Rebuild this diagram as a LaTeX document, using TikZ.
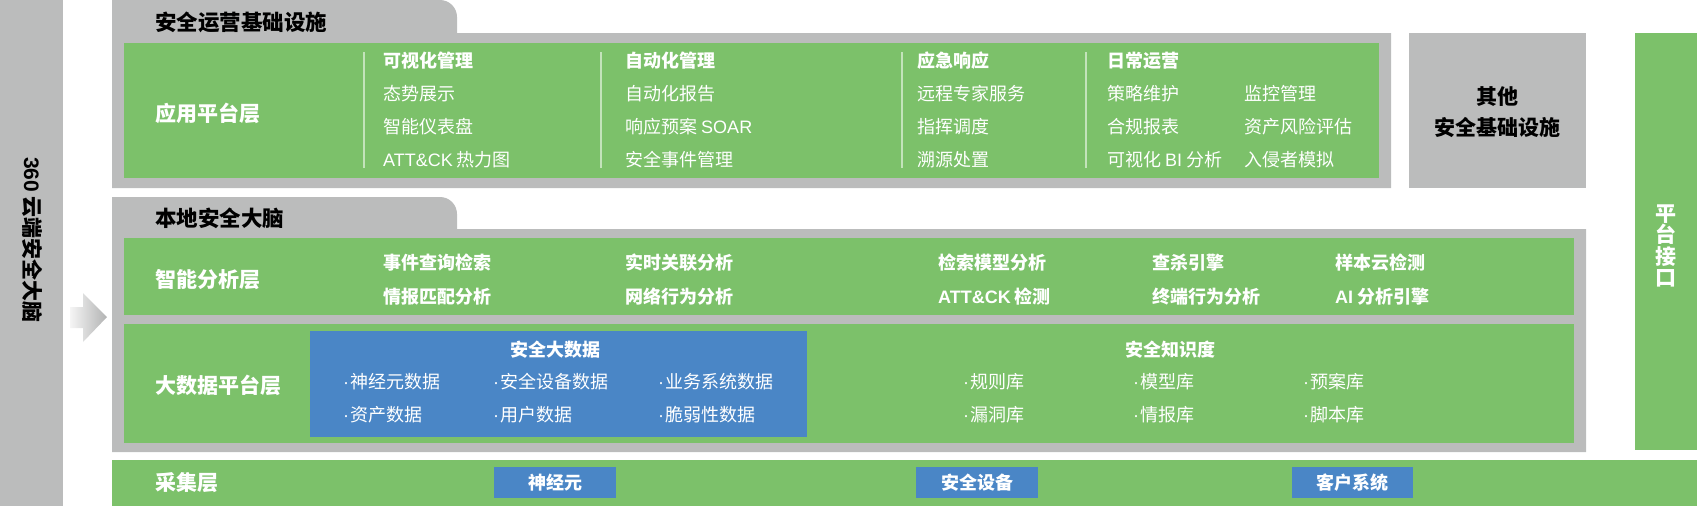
\documentclass[tikz,border=0pt]{standalone}
\usepackage{fontspec}
\setmainfont{Noto Sans CJK SC}
\newfontfamily\latf{Liberation Sans}
\newcommand{\lt}[1]{{\latf #1}}
\newcommand{\dt}{{\latf ·\hspace{1pt}}}
\definecolor{lgreen}{RGB}{124,193,106}
\definecolor{pgray}{RGB}{187,188,188}
\definecolor{dblue}{RGB}{74,134,198}
\tikzset{
  lbl/.style={anchor=west, inner sep=0pt, text=white, font=\bfseries\fontsize{21}{25}\selectfont},
  ttl/.style={anchor=west, inner sep=0pt, text=black, font=\bfseries\fontsize{21.5}{25}\selectfont},
  item/.style={anchor=west, inner sep=0pt, text=white, font=\fontsize{18}{22}\selectfont},
  itemb/.style={item, font=\bfseries\fontsize{18}{22}\selectfont},
  itemc/.style={itemb, anchor=center},
  gbox/.style={fill=lgreen, draw=none, anchor=north west, inner sep=0pt},
  bbox/.style={fill=dblue, draw=none, anchor=north west, inner sep=0pt},
  graybox/.style={fill=pgray, draw=none, anchor=north west, inner sep=0pt},
  sep/.style={draw=white, draw opacity=0.55, line width=1.4pt}
}
\begin{document}
\begin{tikzpicture}[x=1pt,y=-1pt]
\useasboundingbox (0,0) rectangle (1698,506);
% left bar
\node[graybox, minimum width=63pt, minimum height=506pt] (left) at (0,0) {};
\node[rotate=-90, inner sep=0pt, font=\bfseries\fontsize{21}{25}\selectfont] (lefttxt) at (32,240) {\lt{360} 云端安全大脑};
% arrow
\shade[left color=gray!8, right color=pgray!95!black] (70,307) -- (83,307) -- (83,293) -- (107,317) -- (83,342) -- (83,328) -- (70,328) -- cycle;
% panel 1
\fill[pgray] (112,0) -- (440,0) .. controls (449.4,0) and (457,7.6) .. (457,17) -- (457,33) -- (1391,33) -- (1391,188) -- (112,188) -- cycle;
\node[ttl] (t1) at (155,22) {安全运营基础设施};
\node[gbox, minimum width=1255pt, minimum height=135pt] (app) at (124,43) {};
\node[lbl] (applbl) at (155,113) {应用平台层};
\coordinate (s1a) at (364,52); \coordinate (s1b) at (364,168);
\coordinate (s2a) at (601,52); \coordinate (s2b) at (601,168);
\coordinate (s3a) at (902,52); \coordinate (s3b) at (902,168);
\coordinate (s4a) at (1086,52); \coordinate (s4b) at (1086,168);
\draw[sep] (s1a) -- (s1b);
\draw[sep] (s2a) -- (s2b);
\draw[sep] (s3a) -- (s3b);
\draw[sep] (s4a) -- (s4b);
\node[itemb] (a11) at (383,61) {可视化管理};
\node[item] (a12) at (383,94) {态势展示};
\node[item] (a13) at (383,127) {智能仪表盘};
\node[item] (a14) at (383,160) {\lt{ATT\&CK} 热力图};
\node[itemb] (a21) at (625,61) {自动化管理};
\node[item] (a22) at (625,94) {自动化报告};
\node[item] (a23) at (625,127) {响应预案 \lt{SOAR}};
\node[item] (a24) at (625,160) {安全事件管理};
\node[itemb] (a31) at (917,61) {应急响应};
\node[item] (a32) at (917,94) {远程专家服务};
\node[item] (a33) at (917,127) {指挥调度};
\node[item] (a34) at (917,160) {溯源处置};
\node[itemb] (a41) at (1107,61) {日常运营};
\node[item] (a42) at (1107,94) {策略维护};
\node[item] (a43) at (1107,127) {合规报表};
\node[item] (a44) at (1107,160) {可视化 \lt{BI} 分析};
\node[item] (a52) at (1244,94) {监控管理};
\node[item] (a53) at (1244,127) {资产风险评估};
\node[item] (a54) at (1244,160) {入侵者模拟};
% other
\node[graybox, minimum width=177pt, minimum height=155pt] (other) at (1409,33) {};
\node[inner sep=0pt, align=center, font=\bfseries\fontsize{21}{31}\selectfont] (othertxt) at (1497,112) {其他\\安全基础设施};
% right bar
\node[gbox, minimum width=62pt, minimum height=417pt] (right) at (1635,33) {};
\node[inner sep=0pt, align=center, text=white, font=\bfseries\fontsize{21}{21.5}\selectfont] (righttxt) at (1666,246) {平\\台\\接\\口};
% panel 2
\fill[pgray] (112,197) -- (440,197) .. controls (449.4,197) and (457,204.6) .. (457,214) -- (457,229) -- (1586,229) -- (1586,452) -- (112,452) -- cycle;
\node[ttl] (t2) at (155,218) {本地安全大脑};
\node[gbox, minimum width=1450pt, minimum height=77pt] (ana) at (124,238) {};
\node[lbl] (analbl) at (155,280) {智能分析层};
\node[itemb] (b11) at (383,263) {事件查询检索};
\node[itemb] (b12) at (383,297) {情报匹配分析};
\node[itemb] (b21) at (625,263) {实时关联分析};
\node[itemb] (b22) at (625,297) {网络行为分析};
\node[itemb] (b31) at (938,263) {检索模型分析};
\node[itemb] (b32) at (938,297) {\lt{ATT\&CK} 检测};
\node[itemb] (b41) at (1152,263) {查杀引擎};
\node[itemb] (b42) at (1152,297) {终端行为分析};
\node[itemb] (b51) at (1335,263) {样本云检测};
\node[itemb] (b52) at (1335,297) {\lt{AI} 分析引擎};
\node[gbox, minimum width=1450pt, minimum height=119pt] (data) at (124,324) {};
\node[lbl] (datalbl) at (155,385) {大数据平台层};
\node[bbox, minimum width=497pt, minimum height=106pt] (bigdata) at (310,331) {};
\node[itemc] (bdt) at (555,350) {安全大数据};
\node[item] (c11) at (343,382) {\dt 神经元数据};
\node[item] (c12) at (343,415) {\dt 资产数据};
\node[item] (c21) at (493,382) {\dt 安全设备数据};
\node[item] (c22) at (493,415) {\dt 用户数据};
\node[item] (c31) at (658,382) {\dt 业务系统数据};
\node[item] (c32) at (658,415) {\dt 脆弱性数据};
\node[itemc] (kdt) at (1170,350) {安全知识度};
\node[item] (k11) at (963,382) {\dt 规则库};
\node[item] (k12) at (963,415) {\dt 漏洞库};
\node[item] (k21) at (1133,382) {\dt 模型库};
\node[item] (k22) at (1133,415) {\dt 情报库};
\node[item] (k31) at (1303,382) {\dt 预案库};
\node[item] (k32) at (1303,415) {\dt 脚本库};
% collect layer
\node[gbox, minimum width=1585pt, minimum height=46pt] (collect) at (112,460) {};
\node[lbl] (collbl) at (155,483) {采集层};
\node[bbox, minimum width=122pt, minimum height=31pt] (n1) at (494,467) {};
\node[itemc] at (n1.center) {神经元};
\node[bbox, minimum width=122pt, minimum height=31pt] (n2) at (916,467) {};
\node[itemc] at (n2.center) {安全设备};
\node[bbox, minimum width=121pt, minimum height=31pt] (n3) at (1292,467) {};
\node[itemc] at (n3.center) {客户系统};
\end{tikzpicture}
\end{document}
